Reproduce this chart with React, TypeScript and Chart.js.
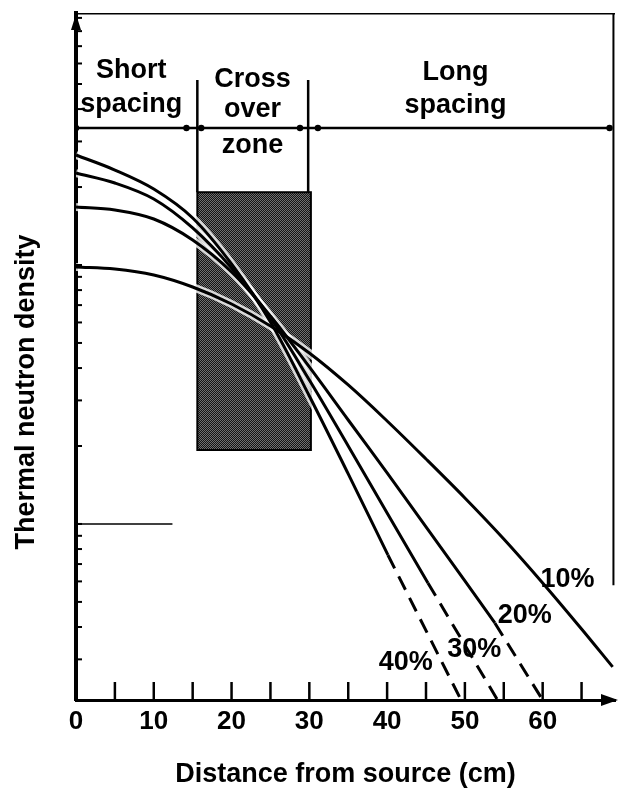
import React, { useEffect, useRef } from 'react';
import { Chart, registerables } from 'chart.js';

Chart.register(...registerables);

// ---------- data ----------
const porosityLabels = ['10%', '20%', '30%', '40%'];

const x10 = [0, 5, 10, 15, 20, 25, 30, 35, 40, 45, 50, 55, 60, 65, 69];
const y10 = [9.824, 9.651, 9.149, 8.225, 7.071, 5.814, 4.574, 3.441, 2.498, 1.782, 1.26, 0.875, 0.592, 0.3931, 0.2805];

const x20 = [0, 5, 10, 15, 20, 25, 30, 35, 40, 45, 50, 53.85];
const y20 = [16.75, 16.31, 15.05, 12.49, 9.397, 6.356, 4.039, 2.52, 1.574, 0.9737, 0.6026, 0.4147];
const x20dash = [53.85, 60];
const y20dash = [0.4147, 0.209];

const x30 = [0, 5, 10, 15, 20, 25, 30, 35, 40, 45.25];
const y30 = [22.66, 20.73, 17.98, 13.9, 9.737, 6.244, 3.597, 2.001, 1.103, 0.592];
const x30dash = [45.25, 54.2];
const y30dash = [0.592, 0.209];

const x40 = [0, 5, 10, 15, 20, 25, 30, 35, 40.1];
const y40 = [26.59, 23.27, 19.65, 15.19, 10.09, 6.026, 3.121, 1.56, 0.759];
const x40dash = [40.1, 49.5];
const y40dash = [0.759, 0.209];

const xRefLine = [0, 12.4];
const yRefLine = [1, 1];

const xTickValues = [0, 5, 10, 15, 20, 25, 30, 35, 40, 45, 50, 55, 60, 65];
const yTickValues = [0.3, 0.4, 0.5, 0.6, 0.7, 0.8, 0.9, 1, 2, 3, 4, 5, 6, 7, 8, 9, 10, 20, 30, 40, 50, 60, 70, 80, 90];

const X_MIN = 0;
const X_MAX = 69.3;
const Y_MIN = 0.209;
const Y_MAX = 94;

// zones
const headerY = 33.8;
const headerDotsX = [0, 14.2, 16.1, 28.8, 31.1, 68.6];
const zoneLeft = 15.6;
const zoneRightLine = 29.85;
const zoneRectRight = 30.2;
const zoneLineTop = 51.8;
const zoneRectTop = 19.1;
const zoneRectBottom = 1.93;
const frameRightX = 69.1;
const frameRightBottom = 0.58;

const zoneTexts = [['Short', 'spacing'], ['Cross', 'over', 'zone'], ['Long', 'spacing']];
const zoneTextX = [7.1, 22.7, 48.8];
const zoneTextY = [[52.7, 39.0], [48.7, 37.3, 27.1], [51.8, 38.6]];

const pctLabelX = [63.2, 57.7, 51.2, 42.4];
const pctLabelY = [0.571, 0.415, 0.307, 0.273];

const xTitle = 'Distance from source (cm)';
const yTitle = 'Thermal neutron density';

const FONT = '"Liberation Sans", Arial, Helvetica, sans-serif';

const pts = (xs: number[], ys: number[]) => xs.map((x, i) => ({ x, y: ys[i] }));

const solid = (xs: number[], ys: number[]) => ({
  data: pts(xs, ys),
  borderColor: '#000',
  borderWidth: 3,
  pointRadius: 0,
  tension: 0.35,
  order: 0,
  clip: false as const,
});
const halo = (xs: number[], ys: number[]) => ({
  data: pts(xs, ys),
  borderColor: 'rgba(255,255,255,0.8)',
  borderWidth: 8,
  pointRadius: 0,
  tension: 0.35,
  order: 10,
});
const dashed = (xs: number[], ys: number[]) => ({
  data: pts(xs, ys),
  borderColor: '#000',
  borderWidth: 3,
  borderDash: [15, 9],
  pointRadius: 0,
  order: 0,
});
const plain = (xs: number[], ys: number[], w: number) => ({
  data: pts(xs, ys),
  borderColor: '#000',
  borderWidth: w,
  pointRadius: 0,
  tension: 0,
  order: 1,
});

const decor = {
  id: 'decor',
  beforeDatasetsDraw(chart: any) {
    const { ctx, scales } = chart;
    const x = scales.x, y = scales.y;
    const l = x.getPixelForValue(zoneLeft);
    const r = x.getPixelForValue(zoneRectRight);
    const t = y.getPixelForValue(zoneRectTop);
    const b = y.getPixelForValue(zoneRectBottom);
    const pc = document.createElement('canvas');
    pc.width = 2; pc.height = 2;
    const p = pc.getContext('2d')!;
    p.fillStyle = '#141414'; p.fillRect(0, 0, 2, 2);
    p.fillStyle = '#707070'; p.fillRect(0, 0, 1, 1); p.fillRect(1, 1, 1, 1);
    ctx.save();
    ctx.fillStyle = ctx.createPattern(pc, 'repeat');
    ctx.fillRect(l, t, r - l, b - t);
    ctx.strokeStyle = '#000'; ctx.lineWidth = 2;
    ctx.strokeRect(l, t, r - l, b - t);
    ctx.restore();
  },
  afterDatasetsDraw(chart: any) {
    const { ctx, scales, chartArea } = chart;
    const x = scales.x, y = scales.y;
    ctx.save();
    ctx.strokeStyle = '#000';
    // inside x ticks
    ctx.lineWidth = 2.5;
    x.ticks.forEach((tk: any) => {
      if (tk.value <= 0) return;
      const px = x.getPixelForValue(tk.value);
      ctx.beginPath(); ctx.moveTo(px, chartArea.bottom); ctx.lineTo(px, chartArea.bottom - 18); ctx.stroke();
    });
    // inside y ticks
    ctx.lineWidth = 2;
    y.ticks.forEach((tk: any) => {
      const py = y.getPixelForValue(tk.value);
      ctx.beginPath(); ctx.moveTo(chartArea.left, py); ctx.lineTo(chartArea.left + 6, py); ctx.stroke();
    });
    // arrows
    ctx.fillStyle = '#000';
    ctx.beginPath();
    ctx.moveTo(chartArea.left, chartArea.top + 1);
    ctx.lineTo(chartArea.left - 5, chartArea.top + 17);
    ctx.lineTo(chartArea.left + 5, chartArea.top + 17);
    ctx.closePath(); ctx.fill();
    ctx.beginPath();
    ctx.moveTo(chartArea.right + 3, chartArea.bottom);
    ctx.lineTo(chartArea.right - 14, chartArea.bottom - 6);
    ctx.lineTo(chartArea.right - 14, chartArea.bottom + 6);
    ctx.closePath(); ctx.fill();
    // zone texts
    ctx.font = `bold 27px ${FONT}`;
    ctx.textAlign = 'center';
    ctx.textBaseline = 'alphabetic';
    zoneTexts.forEach((lines, i) => {
      lines.forEach((s, j) => {
        ctx.fillText(s, x.getPixelForValue(zoneTextX[i]), y.getPixelForValue(zoneTextY[i][j]));
      });
    });
    porosityLabels.forEach((s, i) => {
      ctx.fillText(s, x.getPixelForValue(pctLabelX[i]), y.getPixelForValue(pctLabelY[i]));
    });
    ctx.restore();
  },
  afterDraw(chart: any) {
    const { ctx } = chart;
    ctx.save();
    ctx.fillStyle = '#000';
    ctx.font = `bold 27px ${FONT}`;
    ctx.textAlign = 'center';
    ctx.textBaseline = 'middle';
    ctx.translate(27, 392);
    ctx.rotate(-Math.PI / 2);
    ctx.fillText(yTitle, 0, 0);
    ctx.restore();
  },
};

export default function App() {
  const ref = useRef<HTMLCanvasElement | null>(null);
  useEffect(() => {
    if (!ref.current) return;
    const chart = new Chart(ref.current, {
      type: 'line',
      data: {
        datasets: [
          halo(x10, y10), halo(x20, y20), halo(x30, y30), halo(x40, y40),
          solid(x10, y10), solid(x20, y20), solid(x30, y30), solid(x40, y40),
          dashed(x20dash, y20dash), dashed(x30dash, y30dash), dashed(x40dash, y40dash),
          plain(xRefLine, yRefLine, 1.5),
          { ...plain(headerDotsX, headerDotsX.map(() => headerY), 2.5), pointRadius: 3.2, pointBackgroundColor: '#000', pointBorderWidth: 0 },
          plain([zoneLeft, zoneLeft], [zoneLineTop, zoneRectTop], 2.5),
          plain([zoneRightLine, zoneRightLine], [zoneLineTop, zoneRectTop], 2.5),
          plain([X_MIN, X_MAX], [Y_MAX, Y_MAX], 3),
          plain([frameRightX, frameRightX], [Y_MAX, frameRightBottom], 2),
        ] as any,
      },
      options: {
        animation: false,
        responsive: false,
        parsing: false as any,
        layout: { padding: { top: 13, right: 3, left: 0, bottom: 0 } },
        plugins: { legend: { display: false }, tooltip: { enabled: false } },
        scales: {
          x: {
            type: 'linear',
            min: X_MIN,
            max: X_MAX,
            afterBuildTicks: (s: any) => { s.ticks = xTickValues.map((v) => ({ value: v })); },
            afterFit: (s: any) => { s.height = 89; },
            grid: { display: false, drawTicks: false },
            border: { display: true, color: '#000', width: 3 },
            ticks: {
              autoSkip: false,
              maxRotation: 0,
              padding: 6,
              color: '#000',
              font: { family: FONT, size: 26, weight: 'bold' },
              callback: (v: any) => (Number(v) % 10 === 0 ? String(v) : ''),
            },
            title: {
              display: true,
              text: xTitle,
              color: '#000',
              padding: { top: 0, bottom: 0 },
              font: { family: FONT, size: 27, weight: 'bold', lineHeight: 1.1 },
            },
          },
          y: {
            type: 'logarithmic',
            min: Y_MIN,
            max: Y_MAX,
            afterBuildTicks: (s: any) => { s.ticks = yTickValues.map((v) => ({ value: v })); },
            afterFit: (s: any) => { s.width = 76; },
            grid: { display: false, drawTicks: false },
            border: { display: true, color: '#000', width: 4 },
            ticks: { display: false },
            title: { display: false },
          },
        },
      },
      plugins: [decor],
    });
    return () => chart.destroy();
  }, []);
  return (
    <div style={{ position: 'absolute', left: 0, top: 0, width: 619, height: 789, background: '#fff' }}>
      <canvas ref={ref} width={619} height={789} />
    </div>
  );
}
